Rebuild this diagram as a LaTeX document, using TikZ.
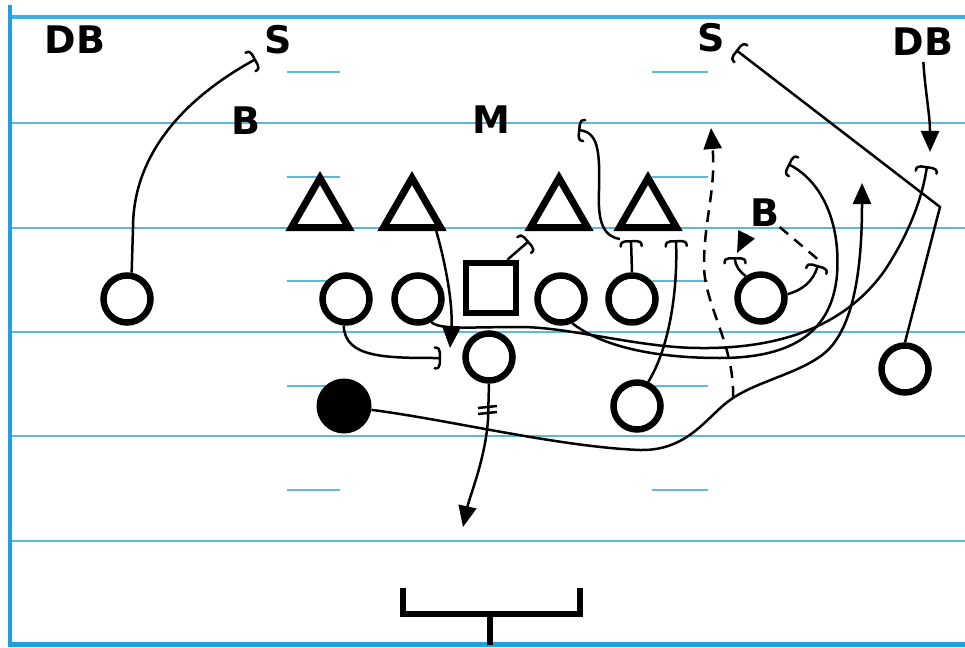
\documentclass[tikz,border=0pt]{standalone}
\usepackage{fontspec}
\newfontfamily\lblfont{DejaVu Sans}
\usetikzlibrary{arrows.meta,shapes.geometric,calc}
\definecolor{fieldblue}{RGB}{30,160,225}
\definecolor{yardblue}{RGB}{95,184,214}
\pgfdeclarearrow{
  name = BlockMark,
  parameters = {\the\pgfarrowlength,\the\pgfarrowwidth},
  setup code = {
    \pgfarrowssettipend{.5\pgflinewidth}
    \pgfarrowssetlineend{0pt}
    \pgfarrowssetbackend{-\pgfarrowlength}
    \pgfarrowssetvisualbackend{-\pgfarrowlength}
    \pgfarrowshullpoint{0pt}{.5\pgfarrowwidth}
    \pgfarrowshullpoint{0pt}{-.5\pgfarrowwidth}
    \pgfarrowshullpoint{-\pgfarrowlength}{.5\pgfarrowwidth}
    \pgfarrowshullpoint{-\pgfarrowlength}{-.5\pgfarrowwidth}
    \pgfarrowssavethe\pgfarrowlength
    \pgfarrowssavethe\pgfarrowwidth
  },
  drawing code = {
    \pgfsetdash{}{0pt}
    \pgfsetroundcap
    \pgfpathmoveto{\pgfqpoint{-\pgfarrowlength}{-.5\pgfarrowwidth}}
    \pgfpathcurveto{\pgfqpoint{-.3\pgfarrowlength}{-.5\pgfarrowwidth}}{\pgfqpoint{0pt}{-.42\pgfarrowwidth}}{\pgfqpoint{0pt}{-.28\pgfarrowwidth}}
    \pgfpathlineto{\pgfqpoint{0pt}{.28\pgfarrowwidth}}
    \pgfpathcurveto{\pgfqpoint{0pt}{.42\pgfarrowwidth}}{\pgfqpoint{-.3\pgfarrowlength}{.5\pgfarrowwidth}}{\pgfqpoint{-\pgfarrowlength}{.5\pgfarrowwidth}}
    \pgfusepathqstroke
  },
  defaults = {length=5pt, width=19pt}
}
\begin{document}
\begin{tikzpicture}[x=1pt,y=-1pt,
  yard/.style={yardblue, line width=2.4pt},
  hashmark/.style={yardblue, line width=2.6pt},
  player/.style={circle, draw=black, line width=6.5pt, fill=white, minimum size=47pt, inner sep=0pt},
  ballcarrier/.style={circle, fill=black, minimum size=55pt, inner sep=0pt},
  snapper/.style={rectangle, draw=black, line width=6.5pt, fill=white, minimum size=50pt, inner sep=0pt},
  defender/.style={regular polygon, regular polygon sides=3, draw=black, line width=7pt, fill=white, minimum size=66pt, inner sep=0pt},
  lbl/.style={font=\lblfont\bfseries\fontsize{38}{38}\selectfont, inner sep=0pt},
  route/.style={line width=2.5pt, black},
  blockend/.style={-{BlockMark[length=5pt,width=21pt]}},
  arrowend/.style={-{Triangle[length=21pt,width=18pt]}},
  optroute/.style={dash pattern=on 12pt off 8pt}
]
\useasboundingbox (0,0) rectangle (965,647);
% field
\foreach \yy in {123,228,332,436,541} \draw[yard] (12,\yy) -- (965,\yy);
\foreach \yy in {72,177,281,386,490} {
  \draw[hashmark] (287,\yy) -- (340,\yy);
  \draw[hashmark] (652,\yy) -- (708,\yy);
}
\draw[fieldblue!85, line width=4.5pt] (8,17) -- (965,17);
\draw[fieldblue, line width=5pt] (8,644) -- (965,644);
\draw[fieldblue, line width=4.5pt] (10,5) -- (10,647);
% goal post
\draw[line width=6pt, line join=miter] (403,588) -- (403,614) -- (580,614) -- (580,588);
\draw[line width=6pt] (490,614) -- (490,645);
% labels
\node[lbl] (dbl) at (75,40) {DB};
\node[lbl] (sl) at (278,40) {S};
\node[lbl] (bl) at (246,121) {B};
\node[lbl] (ml) at (491,120) {M};
\node[lbl] (sr) at (711,38) {S};
\node[lbl] (dbr) at (923,42) {DB};
\node[lbl] (br) at (765,213) {B};
% defenders
\node[defender] (t1) at (320,211) {};
\node[defender] (t2) at (412,211) {};
\node[defender] (t3) at (559,211) {};
\node[defender] (t4) at (648,211) {};
% offense
\node[player] (wrl) at (127,299) {};
\node[player] (lt) at (346,299) {};
\node[player] (lg) at (418,299) {};
\node[snapper] (c) at (491,288) {};
\node[player] (rg) at (561,299) {};
\node[player] (rt) at (632,299) {};
\node[player] (te) at (761,298) {};
\node[player] (qb) at (489,357) {};
\node[ballcarrier] (rb) at (344,406) {};
\node[player] (slot) at (637,406) {};
\node[player] (wrr) at (905,369) {};
% free ends
\coordinate (sblk) at (256,59);
\coordinate (ltblk) at (441,358);
\coordinate (dbblk) at (927,166);
\coordinate (rgblk) at (788,164);
\coordinate (dj) at (733,398);
\coordinate (rbtip) at (862,183);
\coordinate (opttip) at (711,128);
\coordinate (slotblk) at (676,240);
\coordinate (rtblk) at (631,240);
\coordinate (mj) at (620,239);
\coordinate (mblk) at (578,130);
\coordinate (cblk) at (529,241);
\coordinate (t2tip) at (450,348);
\coordinate (qbtip) at (463,527);
\coordinate (teblkl) at (735,257);
\coordinate (teblkr) at (818,265);
\coordinate (bdash) at (821,262);
\coordinate (btip) at (737,253);
\coordinate (sbend) at (940,207);
\coordinate (srblk) at (736,50);
\coordinate (dbtip) at (930,152);
% routes
\draw[route,blockend] (wrl.80) -- (133,228) .. controls (133,150) and (190,95) .. (sblk);
\draw[route,blockend] (lt.-95) .. controls (345,358) and (385,358) .. (ltblk);
\draw[route,blockend] (lg.-60) .. controls (440,330) and (470,327) .. (520,327) .. controls (570,327) and (640,348) .. (700,348) .. controls (790,349) and (850,320) .. (885,270) .. controls (908,235) and (922,200) .. (dbblk);
\draw[route,blockend] (rg.-65) .. controls (600,345) and (650,358) .. (720,358) .. controls (795,358) and (832,330) .. (837,275) .. controls (841,220) and (820,180) .. (rgblk);
\draw[route,arrowend] (rb.-8) .. controls (450,420) and (560,447) .. (640,450) .. controls (690,451) and (708,414) .. (dj) .. controls (760,380) and (805,372) .. (828,350) .. controls (856,322) and (862,260) .. (rbtip);
\draw[route,optroute,arrowend] (dj) .. controls (735,345) and (704,305) .. (704,265) .. controls (704,220) and (716,190) .. (opttip);
\draw[route,blockend] (slot.65) .. controls (668,350) and (678,295) .. (slotblk);
\draw[route,blockend] (rt.north) -- (rtblk);
\draw[route,blockend] (mj) .. controls (600,236) and (598,215) .. (599,190) .. controls (600,150) and (598,132) .. (mblk);
\draw[route,blockend] (c.60) -- (cblk);
\draw[route,arrowend] ($(t2.corner 3)!0.15!(t2.corner 2)$) .. controls (446,265) and (453,305) .. (t2tip);
\draw[route,arrowend] (qb.south) -- (488,420) .. controls (485,460) and (470,495) .. (qbtip);
\draw[route] (478,408) -- (497,406) (478,414) -- (497,412);
\draw[route,blockend] (te.125) .. controls (740,272) and (735,266) .. (teblkl);
\draw[route,blockend] (te.8) .. controls (802,290) and (813,282) .. (teblkr);
\draw[route,dash pattern=on 11pt off 8pt] (br.south east) -- (bdash);
\draw[route,arrowend,shorten <=8pt] (br.south west) -- (btip);
\draw[route,blockend] (wrr.north) -- (sbend) -- (srblk);
\draw[route,arrowend,shorten <=6pt] (dbr.south) .. controls (925,90) and (930,115) .. (dbtip);
\end{tikzpicture}
\end{document}
